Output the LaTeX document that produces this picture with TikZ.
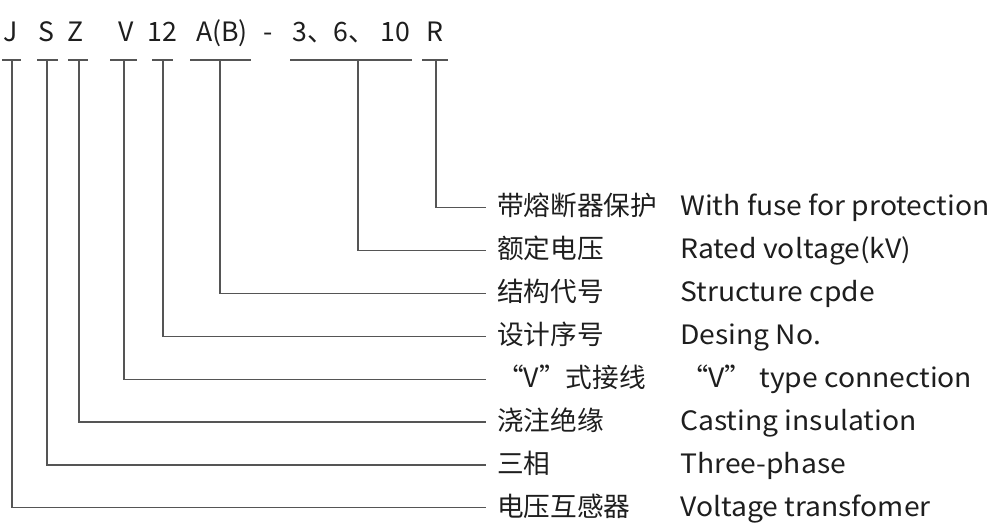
\documentclass[tikz,border=0pt]{standalone}
\usepackage{fontspec}
\setmainfont{Noto Sans CJK SC}
\newfontfamily\enfont[FakeStretch=1.06]{Noto Sans CJK SC}
\usetikzlibrary{positioning}
\definecolor{ink}{HTML}{1E1E1E}
\definecolor{rule}{HTML}{555555}

\begin{document}
\begin{tikzpicture}[
  x=0.75pt, y=-0.75pt,
  code/.style={anchor=base, inner sep=0pt, text=ink,
               font=\fontsize{20}{24}\selectfont},
  desc/.style={anchor=base west, inner sep=0pt, text=ink,
               font=\fontsize{20}{24}\selectfont},
  descen/.style={desc, font=\enfont\fontsize{20}{24}\selectfont},
  bar/.style={draw=rule, line width=0.9pt},
  lead/.style={draw=rule, line width=0.9pt}
]
  \useasboundingbox (0,0) rectangle (1000,531);

  % type code
  \node[code] (J) at (11,42) {J};
  \node[code] (S) at (46,42) {S};
  \node[code] (Z) at (76,42) {Z};
  \node[code] (V) at (126,42) {V};
  \node[code] (num) at (162,42) {12};
  \node[code] (AB) at (222,42) {A(B)};
  \node[code] (dash) at (268,42) {-};
  \node[code, anchor=base west] (volt) at (292,42) {3、6、\kern4pt10};
  \node[code] (R) at (435,42) {R};

  % bars under the code
  \coordinate (J-b) at (12,60);
  \coordinate (S-b) at (47,60);
  \coordinate (Z-b) at (79,60);
  \coordinate (V-b) at (124,60);
  \coordinate (num-b) at (163,60);
  \coordinate (AB-b) at (220,60);
  \coordinate (volt-b) at (358,60);
  \coordinate (R-b) at (436,60);
  \draw[bar] (2,60) -- (21,60);
  \draw[bar] (37,60) -- (58,60);
  \draw[bar] (68,60) -- (88,60);
  \draw[bar] (110,60) -- (137,60);
  \draw[bar] (152,60) -- (173,60);
  \draw[bar] (190,60) -- (251,60);
  \draw[bar] (290,60) -- (412,60);
  \draw[bar] (422,60) -- (448,60);

  % ends of the leads
  \coordinate (R-e) at (486,207.7);
  \coordinate (volt-e) at (486,250.6);
  \coordinate (AB-e) at (486,293.4);
  \coordinate (num-e) at (486,336.3);
  \coordinate (V-e) at (486,379.1);
  \coordinate (Z-e) at (486,422.0);
  \coordinate (S-e) at (486,464.9);
  \coordinate (J-e) at (486,507.7);

  % meanings
  \node[desc] (R-cn) at (497,216.0) {带熔断器保护};
  \node[desc] (volt-cn) at (497,258.9) {额定电压};
  \node[desc] (AB-cn) at (497,301.7) {结构代号};
  \node[desc] (num-cn) at (497,344.6) {设计序号};
  \node[desc] (V-cn) at (497,387.4) {“V”式接线};
  \node[desc] (Z-cn) at (497,430.3) {浇注绝缘};
  \node[desc] (S-cn) at (497,473.2) {三相};
  \node[desc] (J-cn) at (497,516.0) {电压互感器};

  \node[descen] (R-en) at (680,216.0) {With fuse for protection};
  \node[descen] (volt-en) at (680,258.9) {Rated voltage(kV)};
  \node[descen] (AB-en) at (680,301.7) {Structure cpde};
  \node[descen] (num-en) at (680,344.6) {Desing No.};
  \node[descen] (V-en) at (680,387.4) {“V” type connection};
  \node[descen] (Z-en) at (680,430.3) {Casting insulation};
  \node[descen] (S-en) at (680,473.2) {Three-phase};
  \node[descen] (J-en) at (680,516.0) {Voltage transfomer};

  % leads
  \draw[lead] (R-b) |- (R-e);
  \draw[lead] (volt-b) |- (volt-e);
  \draw[lead] (AB-b) |- (AB-e);
  \draw[lead] (num-b) |- (num-e);
  \draw[lead] (V-b) |- (V-e);
  \draw[lead] (Z-b) |- (Z-e);
  \draw[lead] (S-b) |- (S-e);
  \draw[lead] (J-b) |- (J-e);
\end{tikzpicture}
\end{document}
